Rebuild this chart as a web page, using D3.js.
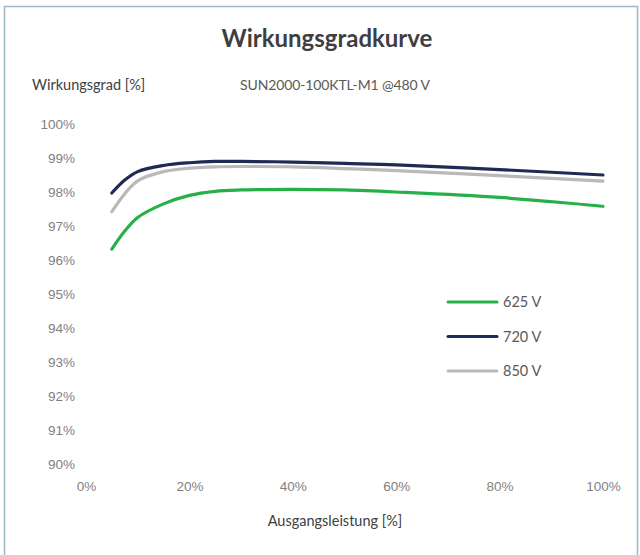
<!DOCTYPE html>
<html lang="de">
  <head>
    <meta charset="UTF-8" />
    <title>Wirkungsgradkurve</title>
    <style>
      body { margin: 0; background: #fff; }
      svg { display: block; font-family: Lato, "Open Sans", sans-serif; }
      .tick text { fill: #7f7f7f; font-size: 13.5px; }
    </style>
  </head>
  <body>
    <svg width="640" height="555"></svg>

    <script src="https://d3js.org/d3.v7.min.js"></script>
    <script>
      // Output power [%] and efficiency values per DC voltage
      const load = [5, 7.5, 10, 15, 20, 25, 30, 40, 50, 60, 80, 100];
      const eff625 = [96.32, 96.85, 97.25, 97.65, 97.9, 98.02, 98.06, 98.08, 98.06, 98.0, 97.84, 97.58];
      const eff720 = [97.97, 98.35, 98.6, 98.78, 98.86, 98.9, 98.9, 98.88, 98.84, 98.8, 98.66, 98.5];
      const eff850 = [97.42, 97.95, 98.33, 98.6, 98.7, 98.74, 98.75, 98.74, 98.69, 98.63, 98.48, 98.32];
      const seriesNames = ["625 V", "720 V", "850 V"];
      const xTicks = [0, 20, 40, 60, 80, 100];
      const yTicks = [90, 91, 92, 93, 94, 95, 96, 97, 98, 99, 100];

      const colors = ["#27b04a", "#1f2b55", "#b9b9b9"];
      const series = [eff625, eff720, eff850].map((vals, i) => ({
        name: seriesNames[i],
        color: colors[i],
        points: load.map((x, j) => [x, vals[j]]),
      }));

      const svg = d3.select("svg");

      // frame
      svg.append("rect")
        .attr("x", 4.5).attr("y", 6.5)
        .attr("width", 633).attr("height", 560)
        .attr("fill", "none")
        .attr("stroke", "#9db8c6")
        .attr("stroke-width", 1.5);

      const x = d3.scaleLinear().domain([0, 100]).range([86, 603]);
      const y = d3.scaleLinear().domain([90, 100]).range([464, 124]);

      // titles
      svg.append("text")
        .attr("x", 327).attr("y", 47)
        .attr("text-anchor", "middle")
        .attr("font-size", 24).attr("font-weight", "bold")
        .attr("fill", "#3f3f3f")
        .text("Wirkungsgradkurve");

      svg.append("text")
        .attr("x", 32).attr("y", 90)
        .attr("font-size", 14.5).attr("fill", "#404040")
        .text("Wirkungsgrad [%]");

      svg.append("text")
        .attr("x", 240).attr("y", 90)
        .attr("font-size", 14).attr("fill", "#595959")
        .attr("textLength", 190)
        .text("SUN2000-100KTL-M1 @480 V");

      svg.append("text")
        .attr("x", 335).attr("y", 526)
        .attr("text-anchor", "middle")
        .attr("font-size", 14.5).attr("fill", "#404040")
        .text("Ausgangsleistung [%]");

      // axes (labels only)
      const yAxis = d3.axisLeft(y).tickValues(yTicks).tickSize(0).tickPadding(0)
        .tickFormat((d) => d + "%");
      svg.append("g")
        .attr("transform", "translate(75,0)")
        .call(yAxis)
        .call((g) => g.select(".domain").remove())
        .selectAll("text").attr("font-family", null).attr("font-size", null);

      const xAxis = d3.axisBottom(x).tickValues(xTicks).tickSize(0).tickPadding(0)
        .tickFormat((d) => d + "%");
      svg.append("g")
        .attr("transform", "translate(0,481)")
        .call(xAxis)
        .call((g) => g.select(".domain").remove())
        .selectAll("text").attr("font-family", null).attr("font-size", null);

      // curves
      const line = d3.line()
        .x((d) => x(d[0]))
        .y((d) => y(d[1]))
        .curve(d3.curveCatmullRom.alpha(0.5));

      svg.selectAll(".curve")
        .data(series)
        .enter()
        .append("path")
        .attr("class", "curve")
        .attr("d", (d) => line(d.points))
        .attr("fill", "none")
        .attr("stroke", (d) => d.color)
        .attr("stroke-width", 3.2)
        .attr("stroke-linecap", "round");

      // legend
      const legend = svg.selectAll(".legend")
        .data(series)
        .enter()
        .append("g")
        .attr("class", "legend")
        .attr("transform", (d, i) => `translate(448,${302 + i * 34.5})`);

      legend.append("line")
        .attr("x1", 0).attr("x2", 49)
        .attr("stroke", (d) => d.color)
        .attr("stroke-width", 3)
        .attr("stroke-linecap", "round");

      legend.append("text")
        .attr("x", 55).attr("y", 5)
        .attr("font-size", 14.5).attr("fill", "#595959")
        .text((d) => d.name);
    </script>
  </body>
</html>
